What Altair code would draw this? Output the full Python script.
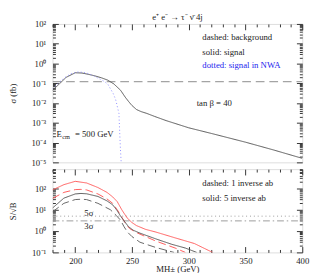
import altair as alt
import pandas as pd

# ---------------- data ----------------
# top panel: sigma (fb)
sig_m = [180, 186, 192, 200, 206, 212, 217, 223, 228.5, 234, 240, 244, 247, 250, 254, 258, 263, 270, 280, 300, 320, 350, 375, 400]
sig_v = [0.044, 0.093, 0.2, 0.34, 0.33, 0.28, 0.24, 0.19, 0.145, 0.093, 0.044, 0.02, 0.012, 0.0075, 0.0047, 0.0037, 0.003, 0.0021, 0.0013, 5.6e-4, 2.9e-4, 1.05e-4, 4.2e-5, 1.6e-5]

nwa_m = [180, 185, 190, 196, 203, 210, 216, 222, 226, 229, 231, 233.5, 235.6, 237, 238.5, 239.3, 240, 240.5]
nwa_v = [0.053, 0.1, 0.18, 0.3, 0.38, 0.33, 0.24, 0.16, 0.12, 0.085, 0.053, 0.03, 0.015, 0.007, 0.003, 2.2e-4, 3e-5, 1e-5]

bkg_m = [180, 400]
bkg_v = [0.12, 0.12]

# bottom panel: S/sqrt(B)
red5_m = [180, 190, 200, 210, 220, 228, 233, 237, 241, 245.6, 250, 254, 262, 271, 288, 305, 321]
red5_v = [85, 150, 215, 180, 110, 65, 40, 24, 10, 4.2, 2.5, 1.8, 1.2, 0.9, 0.48, 0.26, 0.1]

red1_m = [180, 190, 200, 205, 210, 220, 228, 233, 237, 241, 245, 248, 255, 271, 288, 297]
red1_v = [34, 65, 88, 90, 85, 55, 32, 20, 10, 4.5, 2.0, 1.3, 0.8, 0.34, 0.16, 0.1]

blk5_m = [180, 190, 200, 205, 210, 220, 228, 233, 237, 240, 243, 247, 251, 257, 271, 285, 297, 307]
blk5_v = [12, 35, 55, 58, 56, 42, 26, 17, 9, 5, 3, 1.6, 1.1, 0.8, 0.43, 0.24, 0.16, 0.1]

blk1_m = [180, 190, 200, 205, 210, 220, 231, 236, 240, 243, 246, 250, 257, 271, 287]
blk1_v = [8, 20, 30, 31, 30, 20, 10, 5.5, 3.2, 1.6, 0.9, 0.55, 0.3, 0.17, 0.1]

sig5_v = [5, 5]
sig3_v = [3, 3]
hline_m = [180, 400]

# axis ticks
top_decades = [1e-5, 1e-4, 1e-3, 1e-2, 1e-1, 1, 10, 100]
bot_decades = [0.1, 1, 10, 100, 1000]
minor_mult = [1, 2, 3, 4, 5, 6, 7, 8, 9]
x_all = list(range(180, 401, 10))
top_ticks = [d * k for d in top_decades[:-1] for k in minor_mult] + [100]
bot_ticks = [d * k for d in bot_decades[:-1] for k in minor_mult if d * k <= 800]

title_text = "e\u207a e\u207b \u2192   \u03c4\u207b  \u03bd\u0304   4j"

top_labels = ["dashed: background", "solid: signal", "dotted: signal in NWA", "tan \u03b2 = 40"]
top_lab_m = [312, 312, 312, 307]
top_lab_v = [21, 3.9, 0.8, 0.0105]
top_lab_c = ["#222222", "#222222", "#2222ee", "#222222"]

bot_labels = ["dashed: 1 inverse ab", "solid:  5 inverse ab", "5\u03c3", "3\u03c3"]
bot_lab_m = [312, 312, 208, 208]
bot_lab_v = [175, 36, 7.3, 1.75]

ecm_m = [183.5]
ecm_v = [2.6e-4]

FONT = "Liberation Serif"
W = 258
H_TOP = 143
H_BOT = 86
TC = "#333333"

S_M5 = "\u207b\u2075"
S_M4 = "\u207b\u2074"
S_M3 = "\u207b\u00b3"
S_M2 = "\u207b\u00b2"
S_M1 = "\u207b\u00b9"
S_0 = "\u2070"
S_1 = "\u00b9"
S_2 = "\u00b2"
IS_MAJOR = "abs(log(datum.value)/LN10 - round(log(datum.value)/LN10)) < 0.001"
label_expr = ("!(" + IS_MAJOR + ") ? '' : '10' + (datum.value < 5e-5 ? '" + S_M5 + "' : datum.value < 5e-4 ? '" + S_M4 +
              "' : datum.value < 5e-3 ? '" + S_M3 + "' : datum.value < 5e-2 ? '" + S_M2 +
              "' : datum.value < 0.5 ? '" + S_M1 + "' : datum.value < 5 ? '" + S_0 +
              "' : datum.value < 50 ? '" + S_1 + "' : '" + S_2 + "')")
X_MAJOR = "datum.value % 50 == 0"


def df(m, v):
    return pd.DataFrame({"m": m, "v": v})


xscale = alt.Scale(domain=[180, 400], nice=False, zero=False)


def ytick_size():
    return {"condition": {"test": IS_MAJOR, "value": -6}, "value": -3}


def xtick_size():
    return {"condition": {"test": X_MAJOR, "value": -6}, "value": -3}


def x_axis(kind):
    common = dict(values=x_all, tickSize=xtick_size(), domain=False, grid=False, tickColor=TC)
    if kind == "bottom_labels":
        return alt.Axis(orient="bottom", title="MH\u00b1 (GeV)", labelExpr="datum.value % 50 == 0 ? datum.label : ''",
                        labelPadding=10, labelFont=FONT, titleFont=FONT, labelFontSize=9, titleFontSize=9,
                        titleFontWeight="normal", labelColor="#222", titleColor="#222", titlePadding=0,
                        labelFlush=False, **common)
    return alt.Axis(orient="top", labels=False, title=None, minExtent=0, maxExtent=0, **common)


def y_axis(values, title, h, right=False):
    common = dict(values=values, tickSize=ytick_size(), domain=False, grid=False, tickColor=TC)
    if right:
        return alt.Axis(orient="right", labels=False, title=None, minExtent=0, maxExtent=0, **common)
    return alt.Axis(orient="left", labelExpr=label_expr, title=title, labelPadding=13, labelFont=FONT,
                    titleFont=FONT, labelFontSize=9, titleFontSize=9, titleFontWeight="normal",
                    labelColor="#222", titleColor="#222", titleX=-36, titleY=h / 2, titleAngle=270,
                    titleBaseline="bottom", titleAlign="center", **common)


def line(d, color, dash, yscale, xax=None, yax=None, width=1.0):
    return alt.Chart(d).mark_line(color=color, strokeDash=dash, strokeWidth=width, clip=True).encode(
        x=alt.X("m:Q", scale=xscale, axis=xax),
        y=alt.Y("v:Q", scale=yscale, axis=yax),
        order=alt.Order("m:Q"),
    )


def texts(d, size=9, **kw):
    return alt.Chart(d).mark_text(align="left", baseline="middle", font=FONT, fontSize=size, **kw)


# ---------------- top panel ----------------
ytop = alt.Scale(type="log", domain=[1e-5, 100], nice=False)

bkg = line(df(bkg_m, bkg_v), "#8a8a8a", [9, 5], ytop,
           xax=None, yax=y_axis(top_ticks, "\u03c3 (fb)", H_TOP))
sig = line(df(sig_m, sig_v), "#555555", [1, 0], ytop,
           xax=x_axis("top_plain"), yax=y_axis(top_ticks, None, H_TOP, right=True))
nwa = line(df(nwa_m, nwa_v), "#8a8aff", [1, 2.5], ytop)

top_txt = texts(pd.DataFrame({"m": top_lab_m, "v": top_lab_v, "t": top_labels, "c": top_lab_c})).encode(
    x=alt.X("m:Q", scale=xscale, axis=None), y=alt.Y("v:Q", scale=ytop, axis=None), text="t:N",
    color=alt.Color("c:N", scale=None))

ecm_e = texts(df(ecm_m, ecm_v).assign(t="E"), color="#222").encode(
    x=alt.X("m:Q", scale=xscale, axis=None), y=alt.Y("v:Q", scale=ytop, axis=None), text="t:N")
ecm_sub = texts(df(ecm_m, ecm_v).assign(t="cm"), size=6.5, color="#222", dx=6, dy=2.5).encode(
    x=alt.X("m:Q", scale=xscale, axis=None), y=alt.Y("v:Q", scale=ytop, axis=None), text="t:N")
ecm_rest = texts(df(ecm_m, ecm_v).assign(t="= 500 GeV"), color="#222", dx=19).encode(
    x=alt.X("m:Q", scale=xscale, axis=None), y=alt.Y("v:Q", scale=ytop, axis=None), text="t:N")

top = alt.layer(bkg, sig, nwa, top_txt, ecm_e, ecm_sub, ecm_rest).resolve_axis(
    x="independent", y="independent").properties(width=W, height=H_TOP)

# ---------------- bottom panel ----------------
ybot = alt.Scale(type="log", domain=[0.1, 800], nice=False)

h5 = line(df(hline_m, sig5_v), "#999999", [1, 3], ybot,
          xax=x_axis("bottom_labels"), yax=y_axis(bot_ticks, "S/\u221aB", H_BOT))
h3 = line(df(hline_m, sig3_v), "#999999", [7, 3, 1.5, 3], ybot,
          xax=x_axis("top_plain"), yax=y_axis(bot_ticks, None, H_BOT, right=True))
r5 = line(df(red5_m, red5_v), "#ff5a5a", [1, 0], ybot)
r1 = line(df(red1_m, red1_v), "#ff5a5a", [8, 4], ybot)
b5 = line(df(blk5_m, blk5_v), "#555555", [1, 0], ybot)
b1 = line(df(blk1_m, blk1_v), "#666666", [8, 4], ybot)

bot_txt = texts(pd.DataFrame({"m": bot_lab_m, "v": bot_lab_v, "t": bot_labels}), color="#222").encode(
    x=alt.X("m:Q", scale=xscale, axis=None), y=alt.Y("v:Q", scale=ybot, axis=None), text="t:N")

bottom = alt.layer(h5, h3, r5, r1, b5, b1, bot_txt).resolve_axis(
    x="independent", y="independent").properties(width=W, height=H_BOT)

chart = alt.vconcat(top, bottom, spacing=0).properties(
    title=alt.TitleParams(title_text, font=FONT, fontSize=9, fontWeight="normal", color="#222",
                          anchor="middle", frame="group", offset=-2)
).configure_view(stroke=TC, strokeWidth=1).configure(padding=0)

chart.save("out.html", embed_options={"renderer": "svg", "actions": False})
